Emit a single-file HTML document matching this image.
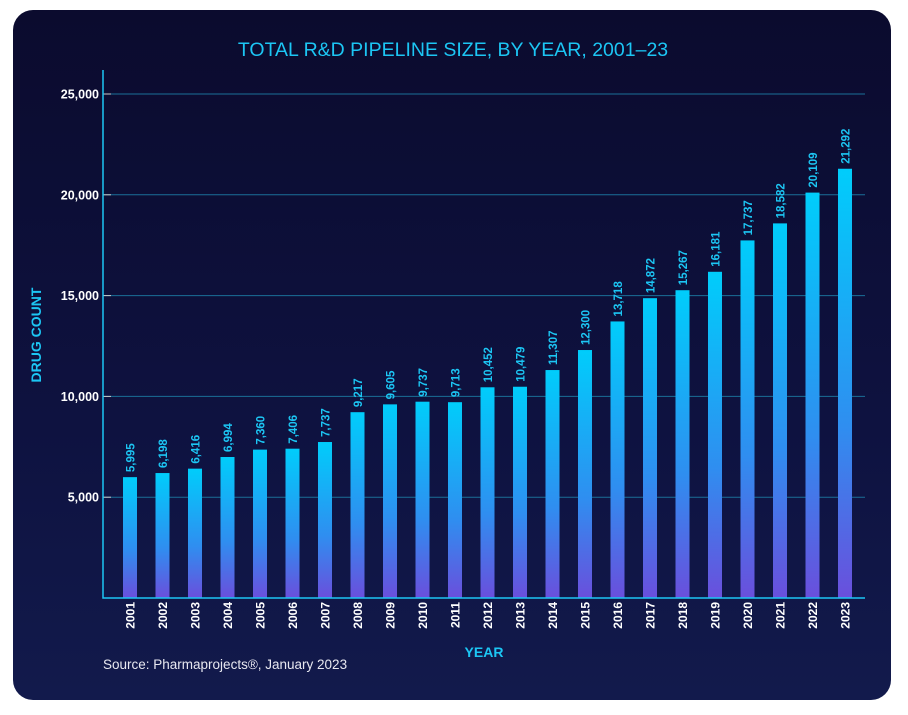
<!DOCTYPE html>
<html><head><meta charset="utf-8"><style>
html,body{margin:0;padding:0;background:#fff;width:908px;height:715px;overflow:hidden}
#card{position:absolute;left:13px;top:10px;width:878px;height:690px;border-radius:20px;background:linear-gradient(180deg,#0b0b2e 0%,#0e1240 60%,#121a4c 100%);overflow:hidden}
svg{position:absolute;left:0;top:0}
text{font-family:"Liberation Sans",sans-serif}
</style></head><body>
<div id="card"></div>
<svg id="chart" width="908" height="715">
<defs><linearGradient id="bg" x1="0" y1="0" x2="0" y2="1"><stop offset="0" stop-color="#00cdfb"/><stop offset="0.6" stop-color="#2f8ef0"/><stop offset="1" stop-color="#6a4fdc"/></linearGradient></defs>
<text x="453" y="56" text-anchor="middle" fill="#1cc6f4" font-size="19.5">TOTAL R&amp;D PIPELINE SIZE, BY YEAR, 2001–23</text>
<text transform="translate(41,335) rotate(-90)" text-anchor="middle" fill="#1cc6f4" font-size="14" font-weight="bold">DRUG COUNT</text>
<text x="484" y="657" text-anchor="middle" fill="#1cc6f4" font-size="14" font-weight="bold">YEAR</text>
<text x="103" y="669" fill="#e8e8f0" font-size="13.5">Source: Pharmaprojects®, January 2023</text>
<g id="grid"></g><g id="bars"></g>
</svg>
<script>
const years=["2001","2002","2003","2004","2005","2006","2007","2008","2009","2010","2011","2012","2013","2014","2015","2016","2017","2018","2019","2020","2021","2022","2023"];
const counts=[5995,6198,6416,6994,7360,7406,7737,9217,9605,9737,9713,10452,10479,11307,12300,13718,14872,15267,16181,17737,18582,20109,21292];
const ticks=[5000,10000,15000,20000,25000];
const NS="http://www.w3.org/2000/svg";
const x0=103,x1=865,y0=598,yTop=94;
const yS=v=>y0-(v/25000)*(y0-yTop);
const xS=i=>130+i*(845-130)/(years.length-1);
const grid=document.getElementById('grid'),bars=document.getElementById('bars');
function mk(tag,attrs,parent){const e=document.createElementNS(NS,tag);for(const k in attrs)e.setAttribute(k,attrs[k]);parent.appendChild(e);return e;}
ticks.forEach(t=>{
 const l=mk('line',{x1:x0,x2:x1,y1:yS(t),y2:yS(t),stroke:'#1a6f98','stroke-width':1},grid);
 
 
 const tk=mk('line',{x1:x0,x2:x0+8,y1:yS(t),y2:yS(t),stroke:'#ccc','stroke-width':1},grid);
 
 
 const tx=mk('text',{x:x0-4,y:yS(t)+4.5,'text-anchor':'end',fill:'#fff','font-size':12.5,'font-weight':'bold'},grid);
 tx.textContent=t.toLocaleString('en-US');
 
 
});
years.forEach((yr,i)=>{
 const cx=xS(i),v=counts[i];
 const r=mk('rect',{x:cx-7,y:yS(v),width:14,height:y0-yS(v),fill:'url(#bg)'},bars);
 
 
 const vl=mk('text',{transform:`translate(${cx+4.5},${yS(v)-5}) rotate(-90)`,fill:'#1cc6f4','font-size':11.5,'font-weight':'bold'},bars);
 vl.textContent=v.toLocaleString('en-US');
 
 
 const xl=mk('text',{transform:`translate(${cx+4.5},${y0+4}) rotate(-90)`,'text-anchor':'end',fill:'#fff','font-size':12,'font-weight':'bold'},bars);
 xl.textContent=yr;
 
 
});
const ax=mk('path',{d:`M${x0},70 V${y0} H${x1}`,fill:'none',stroke:'#1cc6f4','stroke-width':1.5},bars);


</script>
</body></html>
